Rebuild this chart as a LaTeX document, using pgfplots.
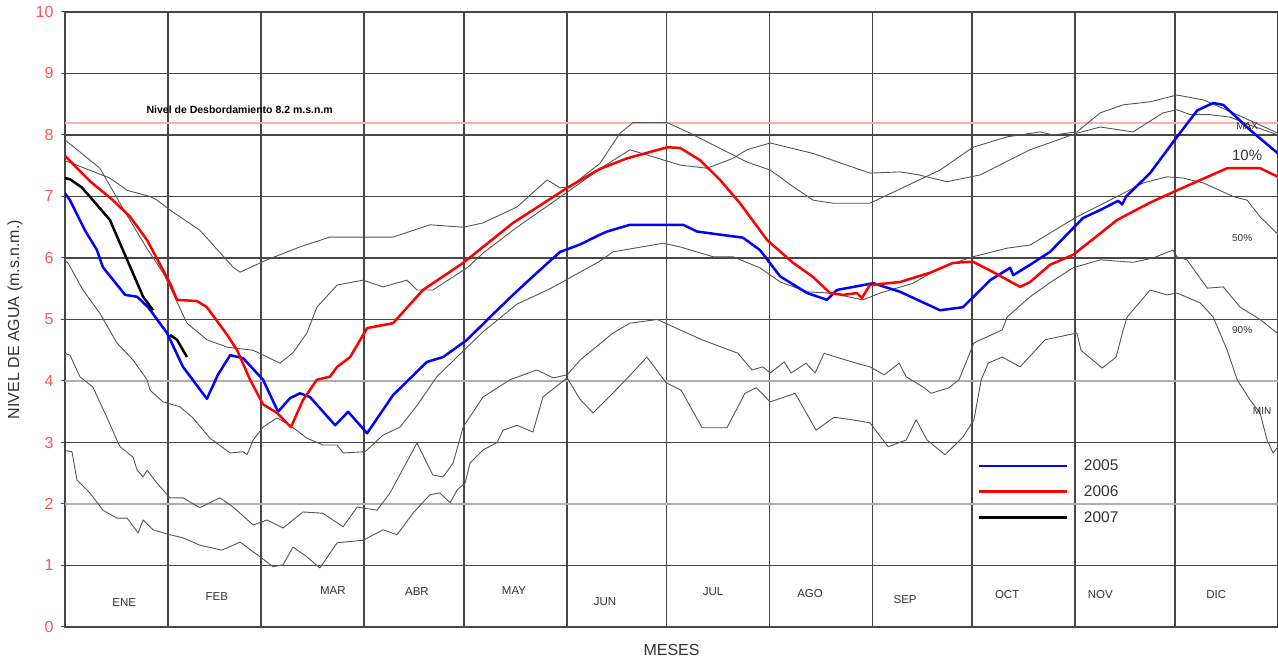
\documentclass[border=0pt]{standalone}
\usepackage{fontspec}
\setmainfont{Liberation Sans}
\usepackage{pgfplots}
\pgfplotsset{compat=1.18}
\definecolor{tickred}{RGB}{255,85,85}
\definecolor{flood}{RGB}{255,175,175}
\definecolor{gridd}{RGB}{70,70,70}
\definecolor{gridl}{RGB}{175,175,175}
\definecolor{curve}{RGB}{85,85,85}
\definecolor{txt}{RGB}{50,50,50}
\begin{document}
\begin{tikzpicture}
\path[use as bounding box] (-65pt,-33pt) rectangle (1213pt,627pt);
\begin{axis}[
  at={(0pt,0pt)}, anchor=south west,
  scale only axis, width=1213pt, height=615pt,
  xmin=0, xmax=365, ymin=0, ymax=10,
  xtick={0,31,59,90,120,151,181,212,243,273,304,334,365},
  xticklabels={},
  xtick style={draw=none},
  ytick={0,1,3,5,6,7,8,9,10},
  extra y ticks={2,4},
  extra y tick style={grid style={gridl, line width=1.8pt}},
  xmajorgrids, ymajorgrids,
  grid style={gridd, line width=1.8pt},
  axis line style={gridd, line width=1.8pt},
  tick style={gridd, line width=1pt},
  tick align=outside, major tick length=4pt,
  /pgf/number format/assume math mode=true,
  yticklabel style={font=\fontsize{16}{18}\selectfont, text=tickred, xshift=-4pt},
  ylabel={NIVEL DE AGUA (m.s.n.m.)},
  ylabel style={at={(axis description cs:-0.0412,0.5)}, anchor=center, font=\fontsize{16}{18}\selectfont, text=txt},
  xlabel={MESES},
  xlabel style={at={(axis description cs:0.5,-0.0374)}, anchor=center, font=\fontsize{16}{18}\selectfont, text=txt},
  legend style={at={(axis cs:274.5,2.2)}, anchor=west, draw=none, fill=none,
    font=\fontsize{15.5}{17}\selectfont, text=txt, row sep=9.5pt, column sep=14pt, inner sep=0pt,
    nodes={inner sep=2pt}},
  legend cell align=left,
  legend image code/.code={\draw[#1] (0pt,0pt) -- (88pt,0pt);},
  every axis plot/.append style={no markers, line join=round},
]
% flood level
\addplot[flood, line width=2pt, forget plot] coordinates {(0,8.2) (365,8.2)};
% historical curves (grey)
\addplot[curve, line width=0.9pt, forget plot] coordinates {
(0,7.58) (2.1,7.54) (13.5,7.3) (18.7,7.1) (25.6,7.0) (27.7,6.94) (31.6,6.78) (40.6,6.45) (50.6,5.85) (52.7,5.77) (60.8,5.97) (70.7,6.18) (79.7,6.34) (90.9,6.34) (98.7,6.34) (109.8,6.54) (119.8,6.5) (125.8,6.57) (136.0,6.83) (145.1,7.27) (149.0,7.14) (152.0,7.16) (161.0,7.54) (167.0,8.03) (170.9,8.2) (181.2,8.2) (188.1,8.03) (200.1,7.7) (205.2,7.56) (212.2,7.43) (219.1,7.16) (225.1,6.94) (231.1,6.89) (242.2,6.89) (250.4,7.1) (263.3,7.43) (273.2,7.8) (283.5,7.97) (293.4,8.05) (297.3,8.0) (304.5,8.05) (311.5,8.36) (318.4,8.49) (326.5,8.54) (334.6,8.65) (342.5,8.57) (351.5,8.36) (361.7,8.11) (365,8.03)};
\addplot[curve, line width=0.9pt, forget plot] coordinates {
(0,7.92) (10.5,7.46) (17.5,6.8) (24.7,6.15) (29.5,5.76) (31.6,5.53) (36.7,4.94) (42.7,4.67) (48.8,4.55) (56.6,4.5) (64.7,4.29) (68.6,4.46) (72.8,4.78) (75.8,5.2) (81.9,5.56) (89.7,5.64) (95.7,5.53) (102.9,5.64) (105.9,5.48) (110.7,5.48) (121.0,5.84) (125.8,6.08) (136.0,6.5) (151.1,7.07) (161.0,7.45) (170.0,7.76) (185.1,7.51) (193.2,7.46) (201.0,7.62) (205.2,7.76) (212.2,7.87) (225.1,7.7) (242.2,7.38) (251.3,7.4) (257.0,7.35) (265.4,7.24) (275.3,7.35) (290.4,7.76) (304.5,8.03) (311.5,8.13) (321.4,8.05) (330.4,8.36) (334.6,8.41) (338.6,8.33) (344.6,8.33) (350.6,8.29) (356.6,8.16) (363.5,8.03) (365,8.0)};
\addplot[curve, line width=0.9pt, forget plot] coordinates {
(0,5.95) (0.9,5.92) (5.4,5.48) (10.5,5.1) (15.6,4.62) (20.5,4.34) (24.7,4.02) (25.6,3.85) (29.5,3.66) (34.6,3.58) (38.5,3.4) (43.6,3.07) (49.7,2.83) (53.6,2.85) (54.8,2.8) (56.6,3.04) (59.6,3.25) (63.8,3.4) (67.7,3.28) (72.8,3.07) (77.6,2.96) (81.9,2.96) (83.7,2.83) (90.3,2.85) (95.7,3.12) (100.8,3.25) (105.9,3.6) (111.9,4.07) (121.0,4.55) (125.8,4.8) (136.0,5.25) (146.0,5.5) (161.0,5.95) (164.9,6.1) (180.0,6.24) (185.1,6.18) (195.0,6.02) (201.0,6.02) (209.1,5.84) (215.2,5.61) (223.3,5.45) (230.2,5.43) (240.1,5.32) (245.3,5.43) (255.2,5.59) (263.3,5.84) (273.2,6.02) (283.5,6.16) (290.4,6.21) (304.5,6.67) (316.6,7.0) (324.4,7.22) (331.6,7.32) (336.4,7.3) (342.5,7.22) (351.5,7.0) (355.7,6.94) (359.6,6.67) (364.7,6.4)};
\addplot[curve, line width=0.9pt, forget plot] coordinates {
(0,4.45) (1.5,4.42) (4.5,4.07) (8.4,3.9) (12.6,3.41) (15.6,3.04) (16.6,2.93) (20.5,2.76) (21.7,2.55) (23.5,2.44) (24.7,2.55) (27.7,2.34) (31.6,2.1) (35.5,2.1) (40.6,1.94) (46.6,2.1) (50.6,1.95) (56.6,1.66) (60.8,1.74) (65.6,1.61) (71.6,1.87) (77.6,1.85) (83.7,1.63) (87.9,1.95) (93.9,1.9) (97.8,2.18) (105.9,2.99) (110.7,2.47) (113.8,2.44) (116.8,2.67) (119.8,3.25) (125.8,3.74) (133.9,4.02) (142.0,4.18) (146.9,4.05) (151.1,4.1) (155.0,4.34) (164.9,4.78) (170.0,4.94) (178.2,5.0) (185.1,4.83) (191.7,4.67) (202.5,4.45) (206.7,4.18) (210.0,4.23) (212.2,4.13) (216.4,4.31) (218.5,4.13) (223.0,4.29) (225.7,4.13) (228.4,4.45) (236.8,4.31) (242.2,4.23) (246.5,4.1) (251.0,4.29) (253.1,4.07) (258.5,3.89) (260.6,3.8) (266.0,3.89) (269.0,4.02) (273.5,4.62) (282.0,4.83) (283.5,5.04) (290.4,5.37) (296.4,5.6) (303.3,5.84) (311.5,5.97) (321.4,5.93) (327.4,6.0) (333.4,6.13) (334.6,6.02) (337.6,5.97) (343.7,5.51) (348.5,5.53) (353.6,5.2) (359.6,5.0) (364.7,4.78)};
\addplot[curve, line width=0.9pt, forget plot] coordinates {
(0,2.87) (2.1,2.85) (3.6,2.39) (7.5,2.18) (11.4,1.9) (15.6,1.77) (18.7,1.77) (22.0,1.53) (23.5,1.74) (26.5,1.58) (31.6,1.5) (35.5,1.45) (40.6,1.33) (47.2,1.25) (52.7,1.38) (58.7,1.14) (62.6,0.98) (65.6,1.01) (68.6,1.3) (72.8,1.14) (76.7,0.96) (81.9,1.37) (89.7,1.41) (95.7,1.58) (99.9,1.5) (104.7,1.85) (109.8,2.15) (112.8,2.18) (115.9,2.02) (118.0,2.23) (120.4,2.34) (121.9,2.67) (125.8,2.88) (130.0,3.0) (131.8,3.2) (136.0,3.28) (140.8,3.17) (143.8,3.74) (151.1,4.05) (155.0,3.7) (158.9,3.48) (167.9,3.97) (175.1,4.39) (180.9,3.97) (185.4,3.85) (191.7,3.24) (199.2,3.24) (204.6,3.8) (208.0,3.89) (212.2,3.66) (219.7,3.8) (226.0,3.2) (231.4,3.41) (236.8,3.37) (242.2,3.32) (247.7,2.93) (253.1,3.04) (256.1,3.37) (259.4,3.04) (264.8,2.8) (270.2,3.09) (273.5,3.37) (275.7,4.02) (277.8,4.29) (282.0,4.39) (287.4,4.23) (294.9,4.67) (304.5,4.78) (305.7,4.5) (312.1,4.21) (316.3,4.39) (318.4,4.83) (319.6,5.04) (326.5,5.48) (331.6,5.4) (334.6,5.43) (341.6,5.27) (345.5,5.04) (349.7,4.5) (352.7,4.02) (356.6,3.69) (359.6,3.48) (361.7,3.04) (363.5,2.83) (365,2.93)};
% 2005
\addplot[blue, line width=2.5pt] coordinates {
(0,7.05) (1.5,6.94) (6.0,6.45) (9.6,6.13) (11.4,5.85) (18.1,5.4) (21.7,5.37) (25.0,5.2) (30.7,4.78) (35.5,4.23) (42.7,3.71) (46.0,4.1) (49.7,4.42) (53.6,4.37) (59.6,4.02) (64.1,3.5) (67.7,3.72) (70.7,3.8) (73.7,3.74) (81.3,3.28) (85.2,3.5) (90.9,3.15) (98.7,3.77) (108.9,4.31) (113.8,4.39) (121.0,4.67) (127.9,5.04) (134.8,5.4) (142.0,5.76) (149.0,6.1) (155.0,6.22) (161.0,6.38) (163.1,6.43) (170.0,6.54) (186.0,6.54) (190.2,6.43) (204.0,6.33) (209.1,6.13) (215.2,5.7) (223.3,5.43) (229.3,5.32) (232.3,5.48) (243.2,5.59) (251.3,5.45) (263.3,5.15) (270.2,5.2) (278.4,5.64) (284.4,5.84) (285.3,5.72) (290.4,5.89) (296.4,6.1) (300.9,6.35) (306.3,6.65) (311.5,6.78) (316.9,6.93) (318.1,6.87) (319.3,7.0) (326.5,7.38) (334.6,7.97) (340.7,8.4) (345.5,8.52) (348.5,8.49) (356.6,8.08) (365,7.7)};
\addlegendentry{2005}
% 2006
\addplot[red, line width=2.5pt] coordinates {
(0,7.66) (7.5,7.25) (14.4,6.94) (19.6,6.67) (24.7,6.29) (31.6,5.59) (33.7,5.32) (39.7,5.3) (42.7,5.2) (48.8,4.75) (51.8,4.5) (55.7,4.02) (59.6,3.62) (63.8,3.48) (68.0,3.25) (71.6,3.69) (75.8,4.02) (79.7,4.07) (81.9,4.23) (85.8,4.39) (90.9,4.86) (98.7,4.94) (107.7,5.48) (119.8,5.92) (125.8,6.18) (134.8,6.57) (151.1,7.14) (161.0,7.45) (169.1,7.62) (181.2,7.8) (185.1,7.79) (191.1,7.59) (197.1,7.27) (203.1,6.89) (211.3,6.29) (219.1,5.92) (225.1,5.69) (230.2,5.43) (234.1,5.4) (238.3,5.43) (239.8,5.35) (242.2,5.56) (251.3,5.61) (260.3,5.76) (267.2,5.92) (273.2,5.94) (279.3,5.77) (287.4,5.53) (290.4,5.61) (296.4,5.89) (303.3,6.05) (311.5,6.4) (316.6,6.62) (326.5,6.9) (334.6,7.1) (349.7,7.46) (359.6,7.46) (365,7.32)};
\addlegendentry{2006}
% 2007
\addplot[black, line width=2.5pt] coordinates {
(0,7.3) (1.5,7.28) (5,7.15) (8.4,6.94) (13.5,6.62) (18.7,5.97) (23.5,5.37) (26.5,5.15)};
\addlegendentry{2007}
\addplot[black, line width=2.5pt, forget plot] coordinates {
(31.6,4.75) (33.7,4.67) (36.7,4.39)};
% texts
\node[anchor=west, font=\bfseries\fontsize{10.5}{12}\selectfont] at (axis cs:23.5,8.41) {Nivel de Desbordamiento 8.2 m.s.n.m};
\begin{scope}[every node/.style={font=\fontsize{11.5}{13}\selectfont, text=txt, anchor=center}]
\node at (axis cs:17.8,0.39) {ENE};
\node at (axis cs:45.7,0.50) {FEB};
\node at (axis cs:80.6,0.59) {MAR};
\node at (axis cs:105.9,0.57) {ABR};
\node at (axis cs:135.1,0.59) {MAY};
\node at (axis cs:162.5,0.41) {JUN};
\node at (axis cs:195.0,0.57) {JUL};
\node at (axis cs:224.2,0.54) {AGO};
\node at (axis cs:252.8,0.44) {SEP};
\node at (axis cs:283.5,0.52) {OCT};
\node at (axis cs:311.5,0.52) {NOV};
\node at (axis cs:346.4,0.52) {DIC};
\end{scope}
\node[font=\fontsize{10}{12}\selectfont, text=txt] at (axis cs:355.7,8.15) {MAX};
\node[font=\fontsize{15}{17}\selectfont, text=txt] at (axis cs:355.7,7.67) {10\%};
\node[font=\fontsize{10}{12}\selectfont, text=txt] at (axis cs:354.2,6.33) {50\%};
\node[font=\fontsize{10}{12}\selectfont, text=txt] at (axis cs:354.2,4.83) {90\%};
\node[font=\fontsize{10}{12}\selectfont, text=txt] at (axis cs:360.2,3.51) {MIN};
\end{axis}
\end{tikzpicture}
\end{document}
